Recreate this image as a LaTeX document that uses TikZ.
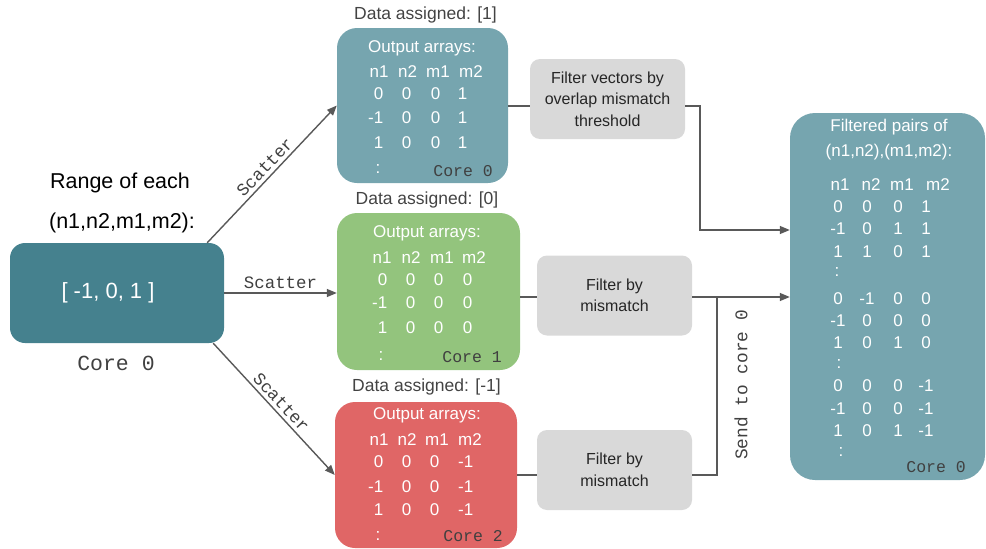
\documentclass[tikz,border=0pt]{standalone}
\usepackage{fontspec}
\setmainfont{Liberation Sans}
\setmonofont{Liberation Mono}
\usetikzlibrary{arrows.meta}

\definecolor{tealdark}{HTML}{45818E}
\definecolor{teallight}{HTML}{76A5AF}
\definecolor{greenlight}{HTML}{93C47D}
\definecolor{redlight}{HTML}{E06666}
\definecolor{greylight}{HTML}{D9D9D9}
\definecolor{wiregrey}{HTML}{595959}
\definecolor{textgrey}{HTML}{434343}

\tikzset{
  corebox/.style={rectangle, rounded corners=20pt, inner sep=0pt},
  filterbox/.style={rectangle, rounded corners=10pt, fill=greylight, align=center,
    minimum width=155pt, minimum height=80pt, text=black!85,
    font=\fontsize{16}{21.5}\selectfont},
  wire/.style={draw=wiregrey, line width=1.4pt},
  tip/.style={-{Triangle[length=10pt,width=8pt]}},
  cell/.style={text=white, inner sep=0pt, font=\fontsize{17}{20}\selectfont},
  heading/.style={inner sep=0pt, font=\fontsize{17.5}{21}\selectfont},
  scat/.style={text=black!75, font=\fontsize{17.4}{20}\ttfamily},
  corelbl/.style={inner sep=0pt, text=black!75, anchor=east, font=\fontsize{16.5}{20}\ttfamily},
}

\begin{document}
\begin{tikzpicture}[x=1pt,y=1pt,yscale=-1]
\useasboundingbox (0,0) rectangle (986,549);

%% input range on core 0
\node[corebox, fill=tealdark, rounded corners=15pt, minimum width=214pt, minimum height=100pt] (src) at (117,293) {};
\node[text=white, font=\fontsize{22}{26}\selectfont] (srcval) at (108,293) {[ -1, 0, 1 ]};
\node[heading, font=\fontsize{21.5}{26}\selectfont] (rangelbl) at (120,183) {Range of each};
\node[heading, font=\fontsize{21.5}{26}\selectfont] (tuplelbl) at (122,223) {(n1,n2,m1,m2):};
\node[scat, font=\fontsize{21.5}{26}\ttfamily] (srccore) at (116,363) {Core 0};

%% worker boxes
\node[corebox, fill=teallight, minimum width=171pt, minimum height=155pt] (core0) at (422.5,105.5) {};
\node[corebox, fill=greenlight, minimum width=183pt, minimum height=157pt] (core1) at (428.5,291.5) {};
\node[corebox, fill=redlight, minimum width=182pt, minimum height=146pt] (core2) at (426,475) {};

\node[heading, text=textgrey] (data0) at (425.5,15) {Data assigned: [1]};
\node[heading, text=textgrey] (data1) at (427,200) {Data assigned: [0]};
\node[heading, text=textgrey] (data2) at (426.5,387) {Data assigned: [-1]};

% core 0 table
\node[cell] (out0) at (422,48) {Output arrays:};
\foreach \lbl/\xx in {n1/379,n2/407.5,m1/438,m2/471}
  \node[cell] (h0\lbl) at (\xx,72) {\lbl};
\foreach \a/\b/\c/\d/\yy in {0/0/0/1/94, -1/0/0/1/118, 1/0/0/1/143} {
  \node[cell, anchor=east] (r0-\yy-1) at (383.5,\yy) {\a};
  \node[cell, anchor=east] (r0-\yy-2) at (411.5,\yy) {\b};
  \node[cell, anchor=east] (r0-\yy-3) at (440.5,\yy) {\c};
  \node[cell, anchor=east] (r0-\yy-4) at (467.5,\yy) {\d};
}
\node[cell] (dots0) at (378,169) {:};
\node[corelbl] (lbl0) at (493,171) {Core 0};

% core 1 table
\node[cell] (out1) at (427,233) {Output arrays:};
\foreach \lbl/\xx in {n1/382,n2/411,m1/442,m2/474}
  \node[cell] (h1\lbl) at (\xx,258) {\lbl};
\foreach \a/\b/\c/\d/\yy in {0/0/0/0/280, -1/0/0/0/303, 1/0/0/0/328} {
  \node[cell, anchor=east] (r1-\yy-1) at (387.5,\yy) {\a};
  \node[cell, anchor=east] (r1-\yy-2) at (415.5,\yy) {\b};
  \node[cell, anchor=east] (r1-\yy-3) at (443.5,\yy) {\c};
  \node[cell, anchor=east] (r1-\yy-4) at (472.5,\yy) {\d};
}
\node[cell] (dots1) at (381,356) {:};
\node[corelbl] (lbl1) at (502,357) {Core 1};

% core 2 table
\node[cell] (out2) at (427,415) {Output arrays:};
\foreach \lbl/\xx in {n1/379,n2/407,m1/437,m2/470}
  \node[cell] (h2\lbl) at (\xx,440) {\lbl};
\foreach \a/\b/\c/\d/\yy in {0/0/0/-1/462, -1/0/0/-1/487, 1/0/0/-1/510} {
  \node[cell, anchor=east] (r2-\yy-1) at (383.5,\yy) {\a};
  \node[cell, anchor=east] (r2-\yy-2) at (411.5,\yy) {\b};
  \node[cell, anchor=east] (r2-\yy-3) at (439.5,\yy) {\c};
  \node[cell, anchor=east] (r2-\yy-4) at (473.5,\yy) {\d};
}
\node[cell] (dots2) at (378,536) {:};
\node[corelbl] (lbl2) at (503,536) {Core 2};

%% filters
\node[filterbox] (filt0) at (607.5,99) {Filter vectors by\\overlap mismatch\\threshold};
\node[filterbox] (filt1) at (614.5,295.5) {Filter by\\mismatch};
\node[filterbox] (filt2) at (614.5,470) {Filter by\\mismatch};

%% gathered result on core 0
\node[corebox, fill=teallight, rounded corners=25pt, minimum width=195pt, minimum height=367pt] (res) at (887.5,296.5) {};
\node[cell] (restitle) at (889,127) {Filtered pairs of};
\node[cell] (restuple) at (889,152) {(n1,n2),(m1,m2):};
\foreach \lbl/\xx in {n1/840,n2/871,m1/902,m2/938}
  \node[cell] (hr\lbl) at (\xx,185) {\lbl};
\foreach \a/\b/\c/\d/\yy in {0/0/0/1/207, -1/0/1/1/229, 1/1/0/1/252,
                              0/-1/0/0/299, -1/0/0/0/321, 1/0/1/0/343,
                              0/0/0/-1/386, -1/0/0/-1/409, 1/0/1/-1/431} {
  \node[cell] (rr-\yy-1) at (838,\yy) {\a};
  \node[cell] (rr-\yy-2) at (867,\yy) {\b};
  \node[cell] (rr-\yy-3) at (898,\yy) {\c};
  \node[cell] (rr-\yy-4) at (926,\yy) {\d};
}
\foreach \xx/\yy in {837/272, 839/364, 841/452}
  \node[cell] (dotsr\yy) at (\xx,\yy) {:};
\node[corelbl] (lblr) at (966,467) {Core 0};

%% scatter (labels turned by hand, the y axis is flipped)
\draw[wire, tip] ([xshift=-17pt]src.north east) -- (core0.west)
  node[midway, rotate=46, anchor=south, scat] {Scatter};
\draw[wire, tip] (src.east) -- (src.east -| core1.west)
  node[midway, above, scat] {Scatter};
\draw[wire, tip] ([xshift=-11pt]src.south east) -- (core2.west)
  node[midway, rotate=-47, anchor=south, scat] {Scatter};

%% filter and gather
\coordinate (hi) at (0,106);
\coordinate (mid) at (0,297);
\coordinate (lo) at (0,475);
\coordinate (hiin) at (700,230);
\coordinate (merge) at (717,297);

\draw[wire] (core0.east |- hi) -- (filt0.west |- hi);
\draw[wire, tip] (filt0.east |- hi) -| (hiin) -- (hiin -| res.west);
\draw[wire] (core1.east |- mid) -- (filt1.west |- mid);
\draw[wire, tip] (filt1.east |- mid) -- (res.west |- mid);
\draw[wire] (core2.east |- lo) -- (filt2.west |- lo);
\draw[wire] (filt2.east |- lo) -| (merge);
\node[scat, rotate=90, font=\fontsize{17.8}{20}\ttfamily] (sendlbl) at (741,385) {Send to core 0};

\end{tikzpicture}
\end{document}
